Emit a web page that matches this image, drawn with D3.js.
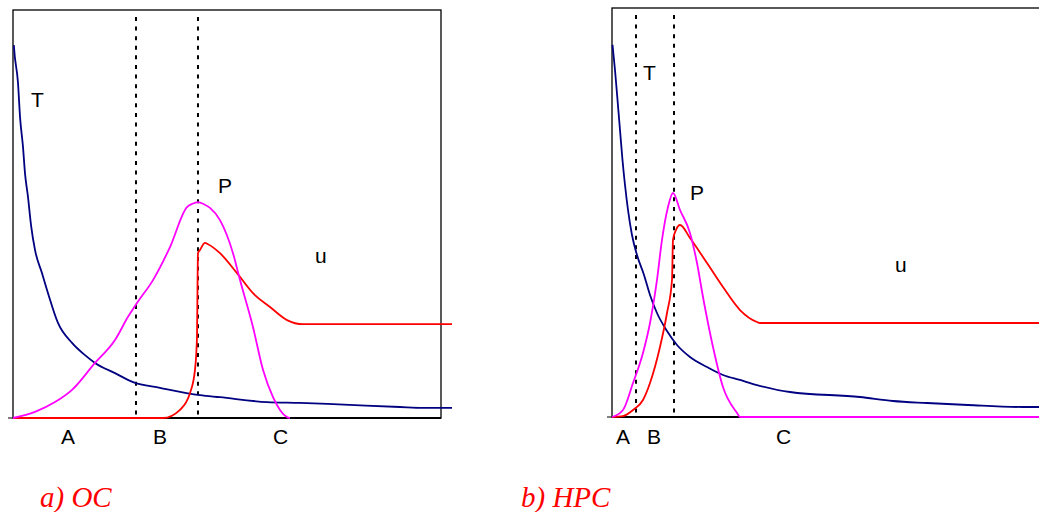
<!DOCTYPE html>
<html>
<head>
<meta charset="utf-8">
<script src="https://cdn.jsdelivr.net/npm/d3@7"></script>
<style>
  html, body { margin: 0; padding: 0; background: #fff; }
  svg { display: block; }
</style>
</head>
<body>
<svg id="chart" width="1039" height="512"></svg>
<script>
// ---- Data (x: relative time 0-100 per panel, y: relative value 0-100) ----
// Panel a) OC
const ocT = [[0.2,91.4],[0.23,90.9],[1.17,82.1],[1.64,73.8],[2.34,66.4],[2.8,60.0],[3.5,54.2],[4.21,47.3],[5.14,41.2],[6.78,35.5],[8.18,30.6],[10.51,23.3],[13.79,18.4],[16.82,15.4],[19.16,13.5],[23.83,11.0],[28.04,8.8],[34.35,7.4],[43.69,5.6],[48.36,5.1],[59.35,3.9],[67.06,3.7],[74.77,3.4],[90.42,2.7],[95.79,2.5],[102.57,2.5]];
const ocP = [[0,0],[5.14,1.5],[9.81,3.9],[13.79,6.9],[19.16,13.5],[23.83,19.1],[26.87,24.8],[28.97,28.2],[32.71,33.8],[36.68,41.9],[40.65,51.7],[41.9,52.5],[43.22,52.9],[44.6,52.4],[46.03,51.5],[48.36,48.5],[51.4,40.4],[53.04,33.8],[56.07,22.3],[58.41,11.8],[60.75,5.1],[64.02,0.2],[64.72,0]];
const ocU = [[0,0],[35.05,0],[39.02,2.0],[41.36,6.1],[42.52,11.8],[42.99,19.9],[43.11,32.1],[43.22,40.4],[43.69,41.2],[44.86,42.9],[45.56,42.6],[48.36,40.4],[52.34,35.5],[56.07,30.6],[60.05,27.2],[64.02,24.0],[67.76,23.0],[102.57,23.0]];
const ocMarks = [28.74, 43.22];

// Panel b) HPC
const hpcT = [[0.12,91.0],[0.7,84.84],[1.29,77.51],[1.87,70.17],[2.45,62.84],[3.04,56.72],[3.74,50.61],[4.67,44.5],[5.84,39.61],[7.48,34.72],[8.88,29.83],[10.51,25.43],[12.85,21.03],[15.19,17.6],[18.22,14.67],[22.2,12.22],[25.93,10.27],[29.91,9.05],[33.88,7.82],[41.59,6.11],[57.94,4.89],[65.65,3.91],[73.6,3.42],[83.18,2.93],[96.03,2.44],[100,2.44]];
const hpcP = [[0,0],[2.57,1.71],[4.91,8.31],[7.24,15.65],[8.88,22.98],[10.51,33.5],[11.68,43.28],[13.08,51.34],[14.25,54.77],[15.89,50.61],[18.22,44.99],[19.86,37.65],[21.26,29.34],[23.6,17.11],[25.93,7.33],[29.21,0.98],[29.91,0],[100,0]];
const hpcU = [[0,0],[2.57,0.24],[4.91,1.71],[7.24,4.16],[8.88,8.31],[11.21,17.11],[12.85,25.43],[14.02,33.5],[14.25,43.28],[14.95,45.72],[15.89,46.94],[18.22,43.77],[22.2,37.65],[25.93,31.78],[29.91,26.16],[33.88,23.23],[34.58,22.98],[100,22.98]];
const hpcMarks = [5.61, 14.49];

const ocLabels = ["T", "P", "u"];
const ocAxisLabels = ["A", "B", "C"];
const hpcLabels = ["T", "P", "u"];
const hpcAxisLabels = ["A", "B", "C"];
const captions = ["a) OC", "b) HPC"];

const svg = d3.select("#chart");

function drawPanel(cfg) {
  const x = d3.scaleLinear().domain([0, 100]).range([cfg.left, cfg.right]);
  const y = d3.scaleLinear().domain([0, 100]).range([cfg.bottom, cfg.top]);
  const g = svg.append("g");

  // frame
  g.append("rect")
    .attr("x", x(0)).attr("y", y(100))
    .attr("width", x(100) - x(0)).attr("height", y(0) - y(100))
    .attr("fill", "none").attr("stroke", "#000").attr("stroke-width", 1.3);

  // x axis baseline (thicker)
  g.append("line")
    .attr("x1", x(0)).attr("x2", x(100))
    .attr("y1", y(0)).attr("y2", y(0))
    .attr("stroke", "#000").attr("stroke-width", 2);
  // left tick
  g.append("line")
    .attr("x1", x(0) - 5).attr("x2", x(0))
    .attr("y1", y(0)).attr("y2", y(0))
    .attr("stroke", "#000").attr("stroke-width", 1);

  // dotted markers
  g.selectAll("line.mark").data(cfg.marks).enter().append("line")
    .attr("class", "mark")
    .attr("x1", d => x(d)).attr("x2", d => x(d))
    .attr("y1", y(98.3)).attr("y2", y(0))
    .attr("stroke", "#000").attr("stroke-width", 2)
    .attr("stroke-dasharray", "4,5.6");

  const line = d3.line().x(d => x(d[0])).y(d => y(d[1])).curve(d3.curveMonotoneX);
  const series = [
    { data: cfg.T, color: "#000080" },
    { data: cfg.U, color: "#ff0000" },
    { data: cfg.P, color: "#ff00ff" }
  ];
  series.forEach(s => {
    g.append("path").datum(s.data)
      .attr("d", line)
      .attr("fill", "none")
      .attr("stroke", s.color)
      .attr("stroke-width", 1.8)
      .attr("stroke-linejoin", "round");
  });

  // curve labels
  cfg.labels.forEach((t, i) => {
    g.append("text")
      .attr("x", cfg.labelPos[i][0]).attr("y", cfg.labelPos[i][1])
      .attr("font-family", "Liberation Sans, Arial, sans-serif")
      .attr("font-size", 21).attr("fill", "#000")
      .text(t);
  });
  cfg.axisLabels.forEach((t, i) => {
    g.append("text")
      .attr("x", cfg.axisLabelPos[i]).attr("y", 444)
      .attr("font-family", "Liberation Sans, Arial, sans-serif")
      .attr("font-size", 21).attr("fill", "#000")
      .text(t);
  });
  g.append("text")
    .attr("x", cfg.captionX).attr("y", 507)
    .attr("font-family", "Liberation Serif, Times New Roman, serif")
    .attr("font-style", "italic")
    .attr("font-size", 29).attr("fill", "#ff0000")
    .text(cfg.caption);
}

drawPanel({
  left: 13, right: 441, top: 10, bottom: 418,
  T: ocT, P: ocP, U: ocU, marks: ocMarks,
  labels: ocLabels, labelPos: [[31, 107], [218, 193], [315, 263]],
  axisLabels: ocAxisLabels, axisLabelPos: [61, 153, 273],
  caption: captions[0], captionX: 40
});

drawPanel({
  left: 612, right: 1040, top: 8, bottom: 417,
  T: hpcT, P: hpcP, U: hpcU, marks: hpcMarks,
  labels: hpcLabels, labelPos: [[643, 80], [690, 200], [895, 272]],
  axisLabels: hpcAxisLabels, axisLabelPos: [616, 647, 776],
  caption: captions[1], captionX: 521
});
</script>
</body>
</html>
